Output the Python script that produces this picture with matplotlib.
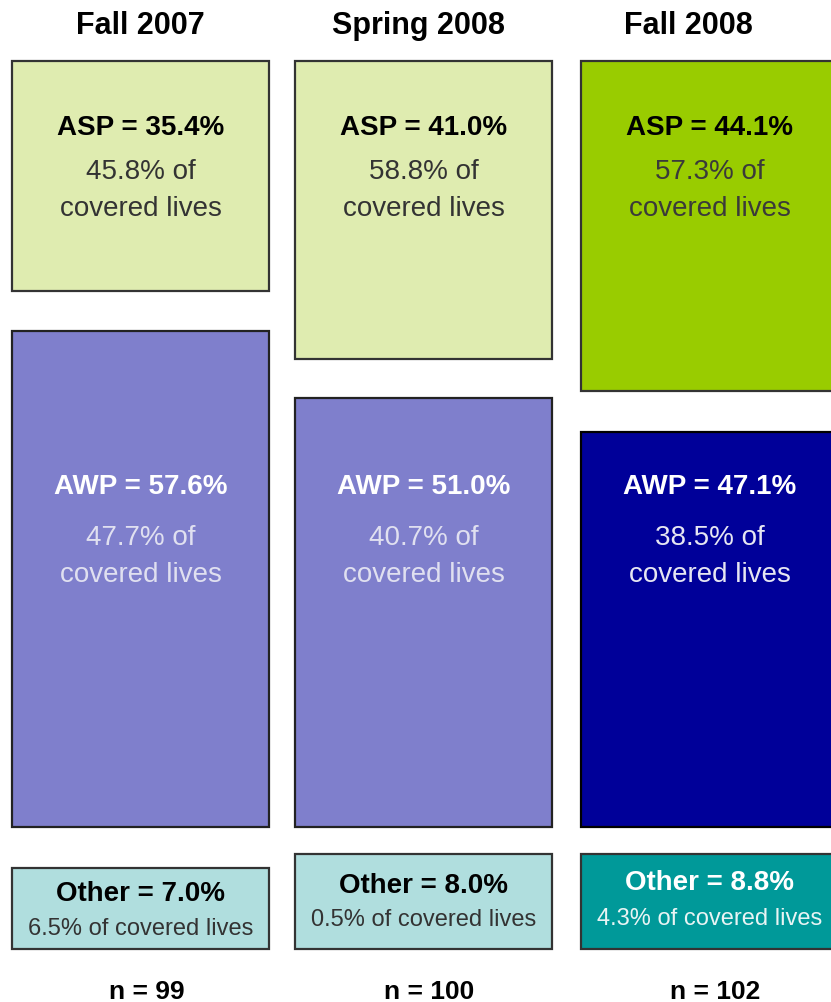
import matplotlib
matplotlib.use("Agg")
from matplotlib import pyplot as plt
from matplotlib.patches import Rectangle

plt.rcParams['font.family'] = ['Liberation Sans', 'DejaVu Sans']

# data
terms = ["Fall 2007", "Spring 2008", "Fall 2008"]
asp_share = [35.4, 41.0, 44.1]
asp_lives = [45.8, 58.8, 57.3]
awp_share = [57.6, 51.0, 47.1]
awp_lives = [47.7, 40.7, 38.5]
other_share = [7.0, 8.0, 8.8]
other_lives = [6.5, 0.5, 4.3]
n_resp = [99, 100, 102]

# layout (pixel coords, y down)
col_left = [12, 295, 581]
col_width = 257
asp_box = [(62, 292), (62, 360), (62, 392)]
awp_box = [(332, 828), (399, 828), (433, 828)]
other_box = [(869, 950), (855, 950), (855, 950)]
title_x = [140, 418, 688]
other_label_y = [(894, 929), (886, 920), (883, 919)]

asp_colors = ["#dfecb0", "#dfecb0", "#99cc00"]
awp_colors = ["#7f7fcc", "#7f7fcc", "#000099"]
other_colors = ["#b0dede", "#b0dede", "#009999"]
asp_text = [("black", "#333333"), ("black", "#333333"), ("black", "#3a3a3a")]
awp_text = [("white", "#e0e0f0"), ("white", "#e0e0f0"), ("white", "#e6e6f2")]
other_text = [("black", "#333333"), ("black", "#333333"), ("white", "#e8f4f4")]

fig = plt.figure(figsize=(8.31, 10.03), dpi=100)
ax = fig.add_axes([0, 0, 1, 1])
ax.set_xlim(0, 831)
ax.set_ylim(1003, 0)
ax.axis('off')


def box(x, top, bottom, color, edge='#333333'):
    ax.add_patch(Rectangle((x, top), col_width, bottom - top, facecolor=color,
                           edgecolor=edge, linewidth=1.6))


for i in range(3):
    x0 = col_left[i]
    cx = x0 + col_width / 2
    ax.text(title_x[i], 26, terms[i], ha='center', va='center',
            fontsize=22, fontweight='bold')

    # ASP
    box(x0, asp_box[i][0], asp_box[i][1], asp_colors[i])
    ax.text(cx, 128, f"ASP = {asp_share[i]:.1f}%", ha='center', va='center',
            fontsize=20, fontweight='bold', color=asp_text[i][0])
    ax.text(cx, 172, f"{asp_lives[i]:.1f}% of", ha='center', va='center',
            fontsize=20, color=asp_text[i][1])
    ax.text(cx, 209, "covered lives", ha='center', va='center',
            fontsize=20, color=asp_text[i][1])

    # AWP
    box(x0, awp_box[i][0], awp_box[i][1], awp_colors[i],
        edge='#222222' if i < 2 else 'black')
    ax.text(cx, 487, f"AWP = {awp_share[i]:.1f}%", ha='center', va='center',
            fontsize=20, fontweight='bold', color=awp_text[i][0])
    ax.text(cx, 538, f"{awp_lives[i]:.1f}% of", ha='center', va='center',
            fontsize=20, color=awp_text[i][1])
    ax.text(cx, 575, "covered lives", ha='center', va='center',
            fontsize=20, color=awp_text[i][1])

    # Other
    box(x0, other_box[i][0], other_box[i][1], other_colors[i])
    ax.text(cx, other_label_y[i][0], f"Other = {other_share[i]:.1f}%",
            ha='center', va='center', fontsize=20, fontweight='bold',
            color=other_text[i][0])
    ax.text(cx, other_label_y[i][1], f"{other_lives[i]:.1f}% of covered lives",
            ha='center', va='center', fontsize=17, color=other_text[i][1])

    ax.text(cx + 6, 992, f"n = {n_resp[i]}", ha='center', va='center',
            fontsize=19, fontweight='bold')

fig.savefig("out.png", dpi=100)
